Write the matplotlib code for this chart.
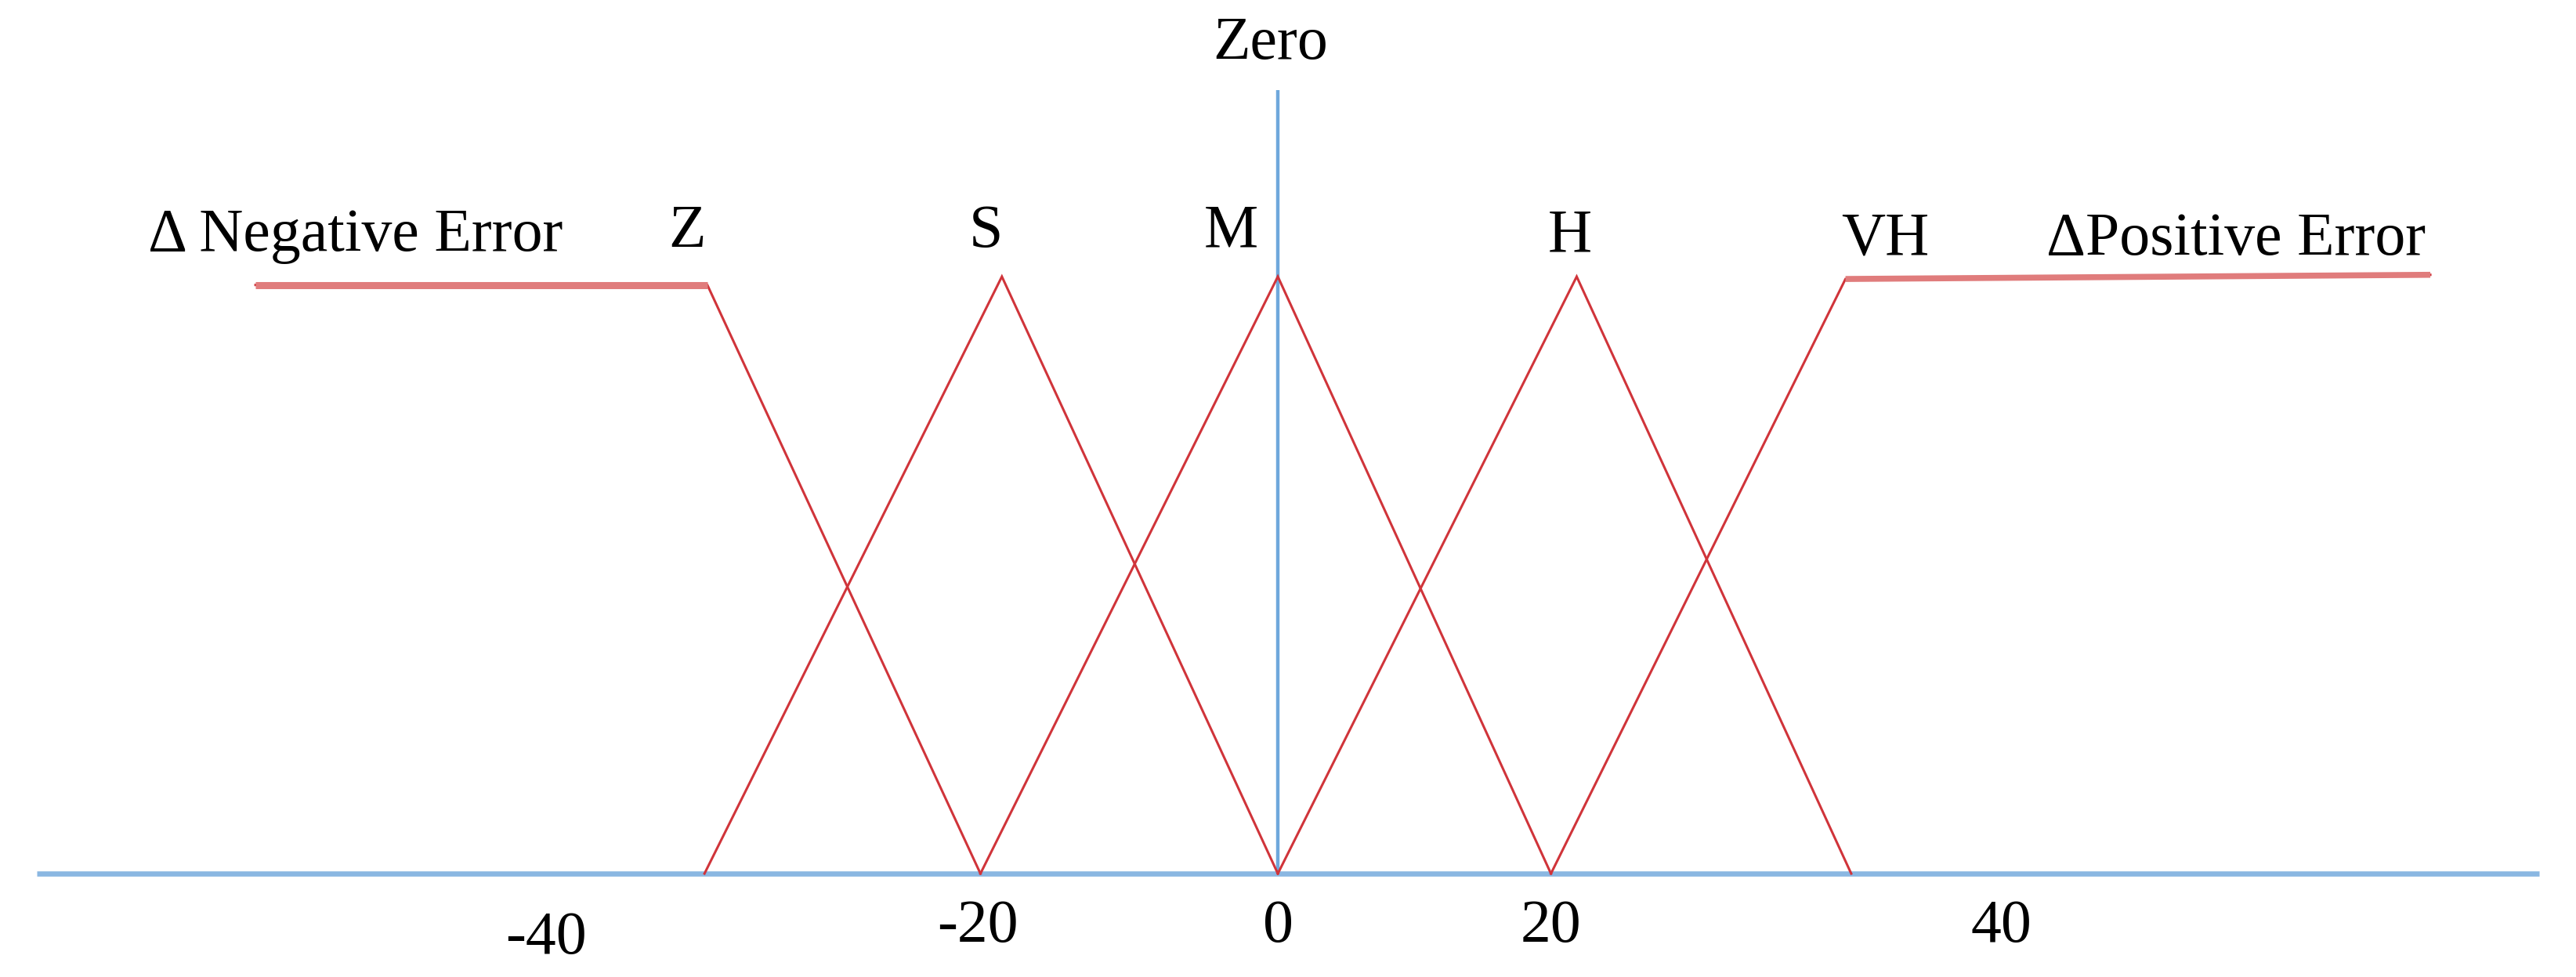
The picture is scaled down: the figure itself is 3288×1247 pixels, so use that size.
import matplotlib
matplotlib.use("Agg")
import matplotlib.pyplot as plt

# ---- data (x in error units, y = membership degree) ----
set_names = ["Z", "S", "M", "H", "VH"]
z_x = [-71.5, -39.9, -20.8]
z_y = [0.986, 0.986, 0.0]
s_x = [-40.1, -19.3, 0.0]
s_y = [0.0, 1.0, 0.0]
m_x = [-20.8, 0.0, 19.1]
m_y = [0.0, 1.0, 0.0]
h_x = [0.0, 20.9, 40.1]
h_y = [0.0, 1.0, 0.0]
vh_x = [19.1, 39.7, 80.6]
vh_y = [0.0, 0.996, 1.003]

tick_labels = ["-40", "-20", "0", "20", "40"]
side_labels = ["\u0394 Negative Error", "\u0394Positive Error"]
zero_label = "Zero"

# ---- layout (label anchor positions, styling) ----
tick_label_x = [-51.2, -21.0, 0.0, 19.1, 50.6]
tick_label_y = [-0.134, -0.114, -0.114, -0.114, -0.114]
set_label_x = [-41.3, -20.4, -3.3, 20.4, 42.5]
set_label_y = [1.050, 1.050, 1.050, 1.043, 1.037]
side_label_x = [-64.5, 67.0]
side_label_y = [1.043, 1.037]

W, H, DPI = 3288, 1247, 100
fig = plt.figure(figsize=(W / DPI, H / DPI), dpi=DPI)
ax = fig.add_axes([0, 0, 1, 1])
ax.set_xlim(-89.37, 90.79)
ax.set_ylim(-0.1732, 1.4633)
ax.axis("off")

blue_h = "#8ab7e2"
blue_v = "#6fa8dc"
red = "#d0343a"
red_light = "#e07c7c"

# axes
ax.plot([-86.8, 88.2], [0, 0], color=blue_h, lw=4.8, solid_capstyle="butt", zorder=1)
ax.plot([0, 0], [0, 1.312], color=blue_v, lw=3.2, solid_capstyle="butt", zorder=1)

# membership functions
series = [(z_x, z_y), (s_x, s_y), (m_x, m_y), (h_x, h_y), (vh_x, vh_y)]
for xs, ys in series:
    ax.plot(xs, ys, color=red, lw=2.2, zorder=2, solid_joinstyle="miter")

# shoulders (thicker)
ax.plot(z_x[:2], z_y[:2], color=red_light, lw=6.5, solid_capstyle="butt", zorder=2)
ax.plot(vh_x[1:], vh_y[1:], color=red_light, lw=5.5, solid_capstyle="butt", zorder=2)

font = dict(family="Liberation Serif", fontsize=56, color="black",
            ha="center", va="baseline")

ax.text(-0.49, 1.365, zero_label, **font)
for name, x, y in zip(set_names, set_label_x, set_label_y):
    ax.text(x, y, name, **font)
for lab, x, y in zip(side_labels, side_label_x, side_label_y):
    ax.text(x, y, lab, **font)
for lab, x, y in zip(tick_labels, tick_label_x, tick_label_y):
    ax.text(x, y, lab, **font)

fig.savefig("out.png", dpi=DPI, facecolor="white")
